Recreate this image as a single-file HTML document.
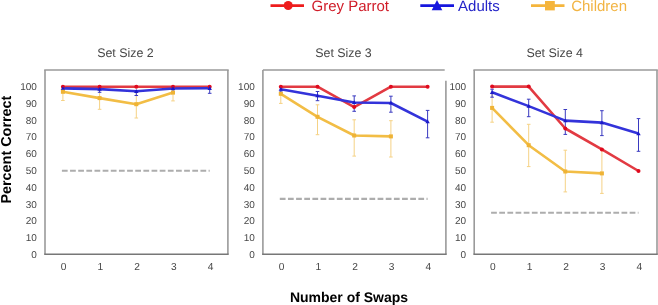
<!DOCTYPE html>
<html><head><meta charset="utf-8"><style>
html,body{margin:0;padding:0;background:#fff;width:658px;height:305px;overflow:hidden}
svg{display:block;will-change:transform;filter:blur(0.3px)}
text{font-family:"Liberation Sans",sans-serif;text-rendering:geometricPrecision}
</style></head><body>
<svg width="658" height="305" viewBox="0 0 658 305">

<line x1="270.5" y1="5.6" x2="304" y2="5.6" stroke="#ee1c1c" stroke-width="2.8"/>
<circle cx="288.2" cy="5.5" r="4.5" fill="#ee1c1c"/>
<text x="311.5" y="10.7" font-size="15" fill="#d01c28">Grey Parrot</text>
<line x1="420.3" y1="5.6" x2="454" y2="5.6" stroke="#1616de" stroke-width="2.8"/>
<polygon points="437,0.1 442.3,10.2 431.7,10.2" fill="#1616de"/>
<text x="458.1" y="10.7" font-size="15" fill="#2424c8">Adults</text>
<line x1="531" y1="5.6" x2="564.5" y2="5.6" stroke="#f5b53c" stroke-width="2.8"/>
<rect x="545" y="1" width="9.8" height="9.4" fill="#f5b53c"/>
<text x="571.2" y="10.7" font-size="15" fill="#f2b443">Children</text>
<text x="125.4" y="57.4" font-size="12.4" fill="#484848" text-anchor="middle">Set Size 2</text>
<line x1="44.2" y1="70" x2="228.70000000000002" y2="70" stroke="#9a9a9a" stroke-width="1.6"/>
<line x1="227.9" y1="70" x2="227.9" y2="254.3" stroke="#9a9a9a" stroke-width="1.6"/>
<line x1="45.0" y1="70" x2="45.0" y2="254.3" stroke="#9a9a9a" stroke-width="1.6"/>
<line x1="44.2" y1="254.3" x2="228.70000000000002" y2="254.3" stroke="#777" stroke-width="1.4"/>
<text x="36.9" y="258.10" font-size="10" fill="#474747" text-anchor="end">0</text>
<text x="36.9" y="241.28" font-size="10" fill="#474747" text-anchor="end">10</text>
<text x="36.9" y="224.45" font-size="10" fill="#474747" text-anchor="end">20</text>
<text x="36.9" y="207.63" font-size="10" fill="#474747" text-anchor="end">30</text>
<text x="36.9" y="190.80" font-size="10" fill="#474747" text-anchor="end">40</text>
<text x="36.9" y="173.98" font-size="10" fill="#474747" text-anchor="end">50</text>
<text x="36.9" y="157.15" font-size="10" fill="#474747" text-anchor="end">60</text>
<text x="36.9" y="140.33" font-size="10" fill="#474747" text-anchor="end">70</text>
<text x="36.9" y="123.50" font-size="10" fill="#474747" text-anchor="end">80</text>
<text x="36.9" y="106.67" font-size="10" fill="#474747" text-anchor="end">90</text>
<text x="36.9" y="89.85" font-size="10" fill="#474747" text-anchor="end">100</text>
<text x="63.70" y="269.9" font-size="10.2" fill="#474747" text-anchor="middle">0</text>
<text x="100.40" y="269.9" font-size="10.2" fill="#474747" text-anchor="middle">1</text>
<text x="137.10" y="269.9" font-size="10.2" fill="#474747" text-anchor="middle">2</text>
<text x="173.80" y="269.9" font-size="10.2" fill="#474747" text-anchor="middle">3</text>
<text x="210.50" y="269.9" font-size="10.2" fill="#474747" text-anchor="middle">4</text>
<line x1="61.9" y1="170.70" x2="209.70000000000002" y2="170.70" stroke="#adadad" stroke-width="2.1" stroke-dasharray="5.75 2.4"/>
<line x1="62.90" y1="91.80" x2="62.90" y2="100.50" stroke="#f5d285" stroke-width="1"/>
<line x1="61.10" y1="100.50" x2="64.70" y2="100.50" stroke="#f5d285" stroke-width="1"/>
<line x1="99.60" y1="86.90" x2="99.60" y2="109.30" stroke="#f5d285" stroke-width="1"/>
<line x1="97.80" y1="109.30" x2="101.40" y2="109.30" stroke="#f5d285" stroke-width="1"/>
<line x1="97.80" y1="86.90" x2="101.40" y2="86.90" stroke="#f5d285" stroke-width="1"/>
<line x1="136.30" y1="90.50" x2="136.30" y2="118.00" stroke="#f5d285" stroke-width="1"/>
<line x1="134.50" y1="118.00" x2="138.10" y2="118.00" stroke="#f5d285" stroke-width="1"/>
<line x1="134.50" y1="90.50" x2="138.10" y2="90.50" stroke="#f5d285" stroke-width="1"/>
<line x1="173.00" y1="92.60" x2="173.00" y2="100.90" stroke="#f5d285" stroke-width="1"/>
<line x1="171.20" y1="100.90" x2="174.80" y2="100.90" stroke="#f5d285" stroke-width="1"/>
<line x1="62.90" y1="88.40" x2="62.90" y2="91.00" stroke="#3a3ac0" stroke-width="1"/>
<line x1="61.10" y1="91.00" x2="64.70" y2="91.00" stroke="#3a3ac0" stroke-width="1"/>
<line x1="99.60" y1="89.10" x2="99.60" y2="92.30" stroke="#3a3ac0" stroke-width="1"/>
<line x1="97.80" y1="92.30" x2="101.40" y2="92.30" stroke="#3a3ac0" stroke-width="1"/>
<line x1="136.30" y1="91.30" x2="136.30" y2="95.50" stroke="#3a3ac0" stroke-width="1"/>
<line x1="134.50" y1="95.50" x2="138.10" y2="95.50" stroke="#3a3ac0" stroke-width="1"/>
<line x1="173.00" y1="88.50" x2="173.00" y2="91.20" stroke="#3a3ac0" stroke-width="1"/>
<line x1="171.20" y1="91.20" x2="174.80" y2="91.20" stroke="#3a3ac0" stroke-width="1"/>
<line x1="209.70" y1="88.30" x2="209.70" y2="93.30" stroke="#3a3ac0" stroke-width="1"/>
<line x1="207.90" y1="93.30" x2="211.50" y2="93.30" stroke="#3a3ac0" stroke-width="1"/>
<polyline points="62.90,86.70 99.60,86.70 136.30,86.70 173.00,86.70 209.70,86.70" fill="none" stroke="#e23a42" stroke-width="2.6" stroke-linejoin="round"/>
<polyline points="62.90,88.40 99.60,89.10 136.30,91.30 173.00,88.50 209.70,88.30" fill="none" stroke="#3333da" stroke-width="2.6" stroke-linejoin="round"/>
<polyline points="62.90,91.80 99.60,98.10 136.30,104.20 173.00,92.60" fill="none" stroke="#f2bd45" stroke-width="2.6" stroke-linejoin="round"/>
<circle cx="62.90" cy="86.70" r="2" fill="#e00a1e"/>
<circle cx="99.60" cy="86.70" r="2" fill="#e00a1e"/>
<circle cx="136.30" cy="86.70" r="2" fill="#e00a1e"/>
<circle cx="173.00" cy="86.70" r="2" fill="#e00a1e"/>
<circle cx="209.70" cy="86.70" r="2" fill="#e00a1e"/>
<polygon points="62.90,86.20 65.10,90.00 60.70,90.00" fill="#1a1ac8"/>
<polygon points="99.60,86.90 101.80,90.70 97.40,90.70" fill="#1a1ac8"/>
<polygon points="136.30,89.10 138.50,92.90 134.10,92.90" fill="#1a1ac8"/>
<polygon points="173.00,86.30 175.20,90.10 170.80,90.10" fill="#1a1ac8"/>
<polygon points="209.70,86.10 211.90,89.90 207.50,89.90" fill="#1a1ac8"/>
<rect x="60.90" y="89.80" width="4" height="4" fill="#efb335"/>
<rect x="97.60" y="96.10" width="4" height="4" fill="#efb335"/>
<rect x="134.30" y="102.20" width="4" height="4" fill="#efb335"/>
<rect x="171.00" y="90.60" width="4" height="4" fill="#efb335"/>
<text x="343.5" y="57.4" font-size="12.4" fill="#484848" text-anchor="middle">Set Size 3</text>
<line x1="262.9" y1="70" x2="444.7" y2="70" stroke="#9a9a9a" stroke-width="1.6"/>
<line x1="445.9" y1="80.8" x2="445.9" y2="254.3" stroke="#9a9a9a" stroke-width="1.6"/>
<line x1="262.9" y1="70" x2="262.9" y2="254.3" stroke="#9a9a9a" stroke-width="1.6"/>
<line x1="262.09999999999997" y1="254.3" x2="446.7" y2="254.3" stroke="#777" stroke-width="1.4"/>
<text x="254.79999999999998" y="258.10" font-size="10" fill="#474747" text-anchor="end">0</text>
<text x="254.79999999999998" y="241.28" font-size="10" fill="#474747" text-anchor="end">10</text>
<text x="254.79999999999998" y="224.45" font-size="10" fill="#474747" text-anchor="end">20</text>
<text x="254.79999999999998" y="207.63" font-size="10" fill="#474747" text-anchor="end">30</text>
<text x="254.79999999999998" y="190.80" font-size="10" fill="#474747" text-anchor="end">40</text>
<text x="254.79999999999998" y="173.98" font-size="10" fill="#474747" text-anchor="end">50</text>
<text x="254.79999999999998" y="157.15" font-size="10" fill="#474747" text-anchor="end">60</text>
<text x="254.79999999999998" y="140.33" font-size="10" fill="#474747" text-anchor="end">70</text>
<text x="254.79999999999998" y="123.50" font-size="10" fill="#474747" text-anchor="end">80</text>
<text x="254.79999999999998" y="106.67" font-size="10" fill="#474747" text-anchor="end">90</text>
<text x="254.79999999999998" y="89.85" font-size="10" fill="#474747" text-anchor="end">100</text>
<text x="281.60" y="269.9" font-size="10.2" fill="#474747" text-anchor="middle">0</text>
<text x="318.30" y="269.9" font-size="10.2" fill="#474747" text-anchor="middle">1</text>
<text x="355.00" y="269.9" font-size="10.2" fill="#474747" text-anchor="middle">2</text>
<text x="391.70" y="269.9" font-size="10.2" fill="#474747" text-anchor="middle">3</text>
<text x="428.40" y="269.9" font-size="10.2" fill="#474747" text-anchor="middle">4</text>
<line x1="279.8" y1="198.90" x2="427.6" y2="198.90" stroke="#adadad" stroke-width="2.1" stroke-dasharray="5.75 2.4"/>
<line x1="280.80" y1="93.80" x2="280.80" y2="103.40" stroke="#f5d285" stroke-width="1"/>
<line x1="279.00" y1="103.40" x2="282.60" y2="103.40" stroke="#f5d285" stroke-width="1"/>
<line x1="317.50" y1="104.80" x2="317.50" y2="134.70" stroke="#f5d285" stroke-width="1"/>
<line x1="315.70" y1="134.70" x2="319.30" y2="134.70" stroke="#f5d285" stroke-width="1"/>
<line x1="315.70" y1="104.80" x2="319.30" y2="104.80" stroke="#f5d285" stroke-width="1"/>
<line x1="354.20" y1="119.80" x2="354.20" y2="156.10" stroke="#f5d285" stroke-width="1"/>
<line x1="352.40" y1="156.10" x2="356.00" y2="156.10" stroke="#f5d285" stroke-width="1"/>
<line x1="352.40" y1="119.80" x2="356.00" y2="119.80" stroke="#f5d285" stroke-width="1"/>
<line x1="390.90" y1="120.70" x2="390.90" y2="157.00" stroke="#f5d285" stroke-width="1"/>
<line x1="389.10" y1="157.00" x2="392.70" y2="157.00" stroke="#f5d285" stroke-width="1"/>
<line x1="389.10" y1="120.70" x2="392.70" y2="120.70" stroke="#f5d285" stroke-width="1"/>
<line x1="280.80" y1="89.20" x2="280.80" y2="92.00" stroke="#3a3ac0" stroke-width="1"/>
<line x1="279.00" y1="92.00" x2="282.60" y2="92.00" stroke="#3a3ac0" stroke-width="1"/>
<line x1="317.50" y1="91.50" x2="317.50" y2="100.70" stroke="#3a3ac0" stroke-width="1"/>
<line x1="315.70" y1="100.70" x2="319.30" y2="100.70" stroke="#3a3ac0" stroke-width="1"/>
<line x1="315.70" y1="91.50" x2="319.30" y2="91.50" stroke="#3a3ac0" stroke-width="1"/>
<line x1="354.20" y1="95.90" x2="354.20" y2="111.30" stroke="#3a3ac0" stroke-width="1"/>
<line x1="352.40" y1="111.30" x2="356.00" y2="111.30" stroke="#3a3ac0" stroke-width="1"/>
<line x1="352.40" y1="95.90" x2="356.00" y2="95.90" stroke="#3a3ac0" stroke-width="1"/>
<line x1="390.90" y1="96.20" x2="390.90" y2="112.20" stroke="#3a3ac0" stroke-width="1"/>
<line x1="389.10" y1="112.20" x2="392.70" y2="112.20" stroke="#3a3ac0" stroke-width="1"/>
<line x1="389.10" y1="96.20" x2="392.70" y2="96.20" stroke="#3a3ac0" stroke-width="1"/>
<line x1="427.60" y1="110.40" x2="427.60" y2="137.80" stroke="#3a3ac0" stroke-width="1"/>
<line x1="425.80" y1="137.80" x2="429.40" y2="137.80" stroke="#3a3ac0" stroke-width="1"/>
<line x1="425.80" y1="110.40" x2="429.40" y2="110.40" stroke="#3a3ac0" stroke-width="1"/>
<polyline points="280.80,86.70 317.50,86.70 354.20,107.10 390.90,86.70 427.60,86.70" fill="none" stroke="#e23a42" stroke-width="2.6" stroke-linejoin="round"/>
<polyline points="280.80,89.20 317.50,95.70 354.20,102.50 390.90,103.00 427.60,121.60" fill="none" stroke="#3333da" stroke-width="2.6" stroke-linejoin="round"/>
<polyline points="280.80,93.80 317.50,116.80 354.20,135.50 390.90,136.40" fill="none" stroke="#f2bd45" stroke-width="2.6" stroke-linejoin="round"/>
<circle cx="280.80" cy="86.70" r="2" fill="#e00a1e"/>
<circle cx="317.50" cy="86.70" r="2" fill="#e00a1e"/>
<circle cx="354.20" cy="107.10" r="2" fill="#e00a1e"/>
<circle cx="390.90" cy="86.70" r="2" fill="#e00a1e"/>
<circle cx="427.60" cy="86.70" r="2" fill="#e00a1e"/>
<polygon points="280.80,87.00 283.00,90.80 278.60,90.80" fill="#1a1ac8"/>
<polygon points="317.50,93.50 319.70,97.30 315.30,97.30" fill="#1a1ac8"/>
<polygon points="354.20,100.30 356.40,104.10 352.00,104.10" fill="#1a1ac8"/>
<polygon points="390.90,100.80 393.10,104.60 388.70,104.60" fill="#1a1ac8"/>
<polygon points="427.60,119.40 429.80,123.20 425.40,123.20" fill="#1a1ac8"/>
<rect x="278.80" y="91.80" width="4" height="4" fill="#efb335"/>
<rect x="315.50" y="114.80" width="4" height="4" fill="#efb335"/>
<rect x="352.20" y="133.50" width="4" height="4" fill="#efb335"/>
<rect x="388.90" y="134.40" width="4" height="4" fill="#efb335"/>
<text x="554.7" y="57.4" font-size="12.4" fill="#484848" text-anchor="middle">Set Size 4</text>
<line x1="473.4" y1="70" x2="657.8" y2="70" stroke="#9a9a9a" stroke-width="1.6"/>
<line x1="657.0" y1="70" x2="657.0" y2="254.3" stroke="#9a9a9a" stroke-width="1.6"/>
<line x1="474.2" y1="70" x2="474.2" y2="254.3" stroke="#9a9a9a" stroke-width="1.6"/>
<line x1="473.4" y1="254.3" x2="657.8" y2="254.3" stroke="#777" stroke-width="1.4"/>
<text x="466.09999999999997" y="258.10" font-size="10" fill="#474747" text-anchor="end">0</text>
<text x="466.09999999999997" y="241.28" font-size="10" fill="#474747" text-anchor="end">10</text>
<text x="466.09999999999997" y="224.45" font-size="10" fill="#474747" text-anchor="end">20</text>
<text x="466.09999999999997" y="207.63" font-size="10" fill="#474747" text-anchor="end">30</text>
<text x="466.09999999999997" y="190.80" font-size="10" fill="#474747" text-anchor="end">40</text>
<text x="466.09999999999997" y="173.98" font-size="10" fill="#474747" text-anchor="end">50</text>
<text x="466.09999999999997" y="157.15" font-size="10" fill="#474747" text-anchor="end">60</text>
<text x="466.09999999999997" y="140.33" font-size="10" fill="#474747" text-anchor="end">70</text>
<text x="466.09999999999997" y="123.50" font-size="10" fill="#474747" text-anchor="end">80</text>
<text x="466.09999999999997" y="106.67" font-size="10" fill="#474747" text-anchor="end">90</text>
<text x="466.09999999999997" y="89.85" font-size="10" fill="#474747" text-anchor="end">100</text>
<text x="492.90" y="269.9" font-size="10.2" fill="#474747" text-anchor="middle">0</text>
<text x="529.50" y="269.9" font-size="10.2" fill="#474747" text-anchor="middle">1</text>
<text x="566.10" y="269.9" font-size="10.2" fill="#474747" text-anchor="middle">2</text>
<text x="602.70" y="269.9" font-size="10.2" fill="#474747" text-anchor="middle">3</text>
<text x="639.30" y="269.9" font-size="10.2" fill="#474747" text-anchor="middle">4</text>
<line x1="491.1" y1="212.70" x2="638.5" y2="212.70" stroke="#adadad" stroke-width="2.1" stroke-dasharray="5.75 2.4"/>
<line x1="492.10" y1="93.60" x2="492.10" y2="122.20" stroke="#f5d285" stroke-width="1"/>
<line x1="490.30" y1="122.20" x2="493.90" y2="122.20" stroke="#f5d285" stroke-width="1"/>
<line x1="490.30" y1="93.60" x2="493.90" y2="93.60" stroke="#f5d285" stroke-width="1"/>
<line x1="528.70" y1="124.30" x2="528.70" y2="166.60" stroke="#f5d285" stroke-width="1"/>
<line x1="526.90" y1="166.60" x2="530.50" y2="166.60" stroke="#f5d285" stroke-width="1"/>
<line x1="526.90" y1="124.30" x2="530.50" y2="124.30" stroke="#f5d285" stroke-width="1"/>
<line x1="565.30" y1="150.20" x2="565.30" y2="191.90" stroke="#f5d285" stroke-width="1"/>
<line x1="563.50" y1="191.90" x2="567.10" y2="191.90" stroke="#f5d285" stroke-width="1"/>
<line x1="563.50" y1="150.20" x2="567.10" y2="150.20" stroke="#f5d285" stroke-width="1"/>
<line x1="601.90" y1="150.10" x2="601.90" y2="193.40" stroke="#f5d285" stroke-width="1"/>
<line x1="600.10" y1="193.40" x2="603.70" y2="193.40" stroke="#f5d285" stroke-width="1"/>
<line x1="600.10" y1="150.10" x2="603.70" y2="150.10" stroke="#f5d285" stroke-width="1"/>
<line x1="492.10" y1="89.20" x2="492.10" y2="97.20" stroke="#3a3ac0" stroke-width="1"/>
<line x1="490.30" y1="97.20" x2="493.90" y2="97.20" stroke="#3a3ac0" stroke-width="1"/>
<line x1="490.30" y1="89.20" x2="493.90" y2="89.20" stroke="#3a3ac0" stroke-width="1"/>
<line x1="528.70" y1="99.20" x2="528.70" y2="116.70" stroke="#3a3ac0" stroke-width="1"/>
<line x1="526.90" y1="116.70" x2="530.50" y2="116.70" stroke="#3a3ac0" stroke-width="1"/>
<line x1="526.90" y1="99.20" x2="530.50" y2="99.20" stroke="#3a3ac0" stroke-width="1"/>
<line x1="565.30" y1="109.50" x2="565.30" y2="134.40" stroke="#3a3ac0" stroke-width="1"/>
<line x1="563.50" y1="134.40" x2="567.10" y2="134.40" stroke="#3a3ac0" stroke-width="1"/>
<line x1="563.50" y1="109.50" x2="567.10" y2="109.50" stroke="#3a3ac0" stroke-width="1"/>
<line x1="601.90" y1="110.70" x2="601.90" y2="135.60" stroke="#3a3ac0" stroke-width="1"/>
<line x1="600.10" y1="135.60" x2="603.70" y2="135.60" stroke="#3a3ac0" stroke-width="1"/>
<line x1="600.10" y1="110.70" x2="603.70" y2="110.70" stroke="#3a3ac0" stroke-width="1"/>
<line x1="638.50" y1="118.60" x2="638.50" y2="151.30" stroke="#3a3ac0" stroke-width="1"/>
<line x1="636.70" y1="151.30" x2="640.30" y2="151.30" stroke="#3a3ac0" stroke-width="1"/>
<line x1="636.70" y1="118.60" x2="640.30" y2="118.60" stroke="#3a3ac0" stroke-width="1"/>
<polyline points="492.10,86.60 528.70,86.60 565.30,128.50 601.90,149.40 638.50,171.00" fill="none" stroke="#e23a42" stroke-width="2.6" stroke-linejoin="round"/>
<polyline points="492.10,92.30 528.70,106.10 565.30,120.60 601.90,122.60 638.50,133.60" fill="none" stroke="#3333da" stroke-width="2.6" stroke-linejoin="round"/>
<polyline points="492.10,107.90 528.70,145.20 565.30,171.50 601.90,173.40" fill="none" stroke="#f2bd45" stroke-width="2.6" stroke-linejoin="round"/>
<circle cx="492.10" cy="86.60" r="2" fill="#e00a1e"/>
<circle cx="528.70" cy="86.60" r="2" fill="#e00a1e"/>
<circle cx="565.30" cy="128.50" r="2" fill="#e00a1e"/>
<circle cx="601.90" cy="149.40" r="2" fill="#e00a1e"/>
<circle cx="638.50" cy="171.00" r="2" fill="#e00a1e"/>
<polygon points="492.10,90.10 494.30,93.90 489.90,93.90" fill="#1a1ac8"/>
<polygon points="528.70,103.90 530.90,107.70 526.50,107.70" fill="#1a1ac8"/>
<polygon points="565.30,118.40 567.50,122.20 563.10,122.20" fill="#1a1ac8"/>
<polygon points="601.90,120.40 604.10,124.20 599.70,124.20" fill="#1a1ac8"/>
<polygon points="638.50,131.40 640.70,135.20 636.30,135.20" fill="#1a1ac8"/>
<rect x="490.10" y="105.90" width="4" height="4" fill="#efb335"/>
<rect x="526.70" y="143.20" width="4" height="4" fill="#efb335"/>
<rect x="563.30" y="169.50" width="4" height="4" fill="#efb335"/>
<rect x="599.90" y="171.40" width="4" height="4" fill="#efb335"/>
<text transform="translate(11.0,149.6) rotate(-90)" font-size="14.4" font-weight="bold" fill="#000" text-anchor="middle">Percent Correct</text>
<text x="349" y="301.9" font-size="14" font-weight="bold" fill="#000" text-anchor="middle">Number of Swaps</text>
</svg></body></html>
